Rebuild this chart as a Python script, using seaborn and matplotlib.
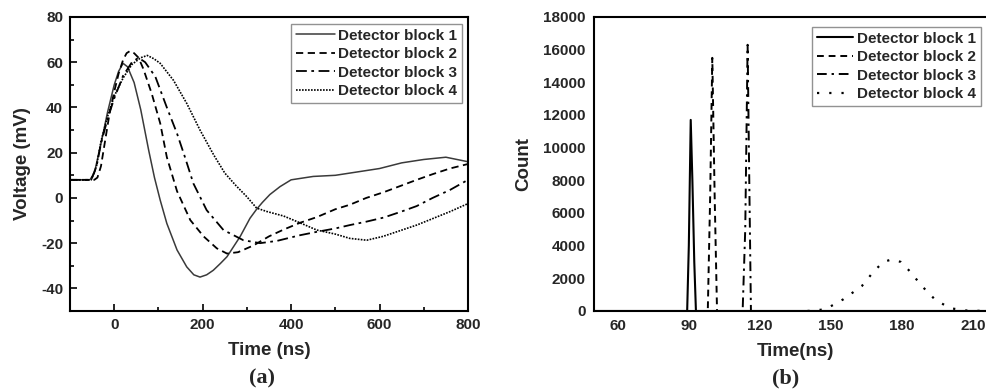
import matplotlib
matplotlib.use("Agg")
import matplotlib.pyplot as plt
from matplotlib.ticker import MultipleLocator
import seaborn as sns
import pandas as pd

# ---------------- data: panel (a) waveforms ----------------
t1 = [-100, -75, -55, -45, -30, -15, 0, 10, 20, 30, 45, 60, 78, 91, 104, 119, 142, 164, 180, 194,
      209, 224, 240, 255, 270, 285, 307, 322, 335, 352, 375, 400, 450, 500, 550, 600, 650, 700, 750, 775, 800]
v1 = [8, 8, 8, 11, 24, 38, 50, 56, 59.5, 58, 51, 39, 21, 9, -1, -11.3, -23, -30.5, -34, -35,
      -34, -32, -29, -26, -21.5, -17, -9, -5, -2, 1.5, 5, 8, 9.5, 10, 11.5, 13, 15.5, 17, 18, 17, 16]

t2 = [-100, -70, -45, -38, -30, -20, -10, 0, 10, 20, 28, 36, 45, 55, 66, 85, 104, 119, 142, 172,
      202, 232, 255, 280, 315, 350, 383, 420, 458, 500, 533, 570, 609, 650, 684, 720, 759, 800]
v2 = [8, 8, 8, 9, 14, 26, 38, 47, 55, 61, 64, 65, 64, 62, 57, 46, 33, 18, 3, -9.8,
      -17, -22.3, -24.6, -24, -21, -17, -14, -11, -8.5, -5, -3, 0, 2.5, 5.5, 8, 10.5, 13, 15]

t3 = [-100, -70, -52, -40, -30, -15, 0, 20, 40, 55, 70, 93, 119, 142, 160, 179, 209, 247, 292, 330,
      368, 420, 458, 500, 533, 570, 609, 650, 684, 720, 759, 800]
v3 = [8, 8, 8, 14, 24, 35, 44, 54, 60, 62, 60, 53.6, 40, 28.5, 18, 6.4, -5.4, -14.2, -18.7, -20,
      -19, -16.5, -15, -13.5, -12, -10.5, -8.7, -6, -3.6, 0, 3.5, 8]

t4 = [-100, -70, -52, -40, -30, -15, 0, 20, 40, 60, 75, 90, 104, 134, 164, 194, 225, 250, 275, 300,
      322, 345, 383, 420, 458, 500, 533, 571, 608, 646, 684, 722, 760, 800]
v4 = [8, 8, 8, 14, 25, 36, 45, 53, 59, 62, 63, 61.5, 59.5, 52, 41.8, 30, 19, 11, 5.5, 0.5,
      -4.5, -6, -8, -11, -14.2, -16, -17.9, -18.7, -17, -14.5, -12, -9, -6, -2.5]

# ---------------- data: panel (b) timing histograms ----------------
h1x = [50, 89.3, 90.0, 90.8, 91.5, 92.3, 93.0, 220]
h1y = [0, 0, 4000, 11700, 8000, 3000, 0, 0]
h2x = [50, 98.0, 99.0, 99.9, 100.9, 101.9, 220]
h2y = [0, 0, 7000, 15500, 7000, 0, 0]
h3x = [50, 112.7, 113.8, 114.8, 115.5, 116.2, 220]
h3y = [0, 0, 5000, 16300, 8000, 0, 0]
h4x = [140, 147.5, 155.2, 163.0, 167.9, 172.0, 175.8, 179.5, 183.4, 188.3, 194.0, 200.3, 207.0, 215.0, 220]
h4y = [0, 100, 718, 1530, 2405, 3000, 3165, 3000, 2405, 1530, 680, 170, 30, 0, 0]

labels = ["Detector block 1", "Detector block 2", "Detector block 3", "Detector block 4"]

sns.set_style("white")
plt.rcParams["font.family"] = ["Liberation Sans", "DejaVu Sans"]
plt.rcParams["font.weight"] = "bold"
plt.rcParams["axes.unicode_minus"] = False

fig = plt.figure(figsize=(9.86, 3.89), dpi=100)
ax1 = fig.add_axes([70 / 986, 1 - 311 / 389, (468 - 70) / 986, (311 - 17) / 389])
ax2 = fig.add_axes([594 / 986, 1 - 311 / 389, (997 - 594) / 986, (311 - 17) / 389])

# ---- panel (a)
styles_a = [dict(color="#3a3a3a", linestyle="-", lw=1.1),
            dict(color="black", linestyle=(0, (4, 2.5)), lw=1.3),
            dict(color="black", linestyle=(0, (6, 2.5, 1.5, 2.5)), lw=1.3),
            dict(color="black", linestyle=(0, (1, 0.8)), lw=1.2)]
for (tx, vy), lab, st in zip([(t1, v1), (t2, v2), (t3, v3), (t4, v4)], labels, styles_a):
    df = pd.DataFrame({"t": tx, "v": vy})
    sns.lineplot(data=df, x="t", y="v", ax=ax1, label=lab, estimator=None, **st)

ax1.set_xlim(-100, 800)
ax1.set_ylim(-50, 80)
ax1.xaxis.set_major_locator(MultipleLocator(200))
ax1.xaxis.set_minor_locator(MultipleLocator(100))
ax1.yaxis.set_major_locator(MultipleLocator(20))
ax1.yaxis.set_minor_locator(MultipleLocator(10))
ax1.tick_params(which="both", direction="in", bottom=True, left=True, top=False, right=False,
                labelsize=11, width=1.2, color="black")
ax1.tick_params(which="major", length=5, pad=5)
ax1.tick_params(which="minor", length=3)
ax1.set_yticks([-40, -20, 0, 20, 40, 60, 80])
for lbl in ax1.get_xticklabels() + ax1.get_yticklabels():
    lbl.set_fontweight("bold")
ax1.set_xlabel("Time (ns)", fontsize=13.5, fontweight="bold", labelpad=7)
ax1.set_ylabel("Voltage (mV)", fontsize=13.5, fontweight="bold", labelpad=7)
for s in ax1.spines.values():
    s.set_linewidth(1.5)
    s.set_color("black")
leg1 = ax1.legend(loc="upper left", bbox_to_anchor=(291 / 986, 1 - 24 / 389),
                  bbox_transform=fig.transFigure, frameon=True, fancybox=False,
                  prop=dict(size=11, weight="bold"), handlelength=2.6, handletextpad=0.2,
                  labelspacing=0.3, borderpad=0.3, borderaxespad=0)
leg1.get_frame().set_edgecolor("#777777")
leg1.get_frame().set_linewidth(1.0)

# ---- panel (b)
styles_b = [dict(color="black", linestyle="-", lw=1.5),
            dict(color="black", linestyle=(0, (3.5, 2.5)), lw=1.4),
            dict(color="black", linestyle=(0, (5, 2.5, 1.2, 2.5)), lw=1.4),
            dict(color="black", linestyle=(0, (1, 4.5)), lw=1.6)]
for (hx, hy), lab, st in zip([(h1x, h1y), (h2x, h2y), (h3x, h3y), (h4x, h4y)], labels, styles_b):
    df = pd.DataFrame({"t": hx, "c": hy})
    sns.lineplot(data=df, x="t", y="c", ax=ax2, label=lab, estimator=None, **st)

ax2.set_xlim(50, 220)
ax2.set_ylim(0, 18000)
ax2.set_xticks([60, 90, 120, 150, 180, 210])
ax2.set_yticks(list(range(0, 18001, 2000)))
ax2.tick_params(which="both", length=0, labelsize=11, pad=6)
for lbl in ax2.get_xticklabels() + ax2.get_yticklabels():
    lbl.set_fontweight("bold")
ax2.set_xlabel("Time(ns)", fontsize=13.5, fontweight="bold", labelpad=7)
ax2.set_ylabel("Count", fontsize=13.5, fontweight="bold", labelpad=8)
for s in ax2.spines.values():
    s.set_linewidth(1.5)
    s.set_color("black")
leg2 = ax2.legend(loc="upper left", bbox_to_anchor=(812 / 986, 1 - 27 / 389),
                  bbox_transform=fig.transFigure, frameon=True, fancybox=False,
                  prop=dict(size=11, weight="bold"), handlelength=2.4, handletextpad=0.25,
                  labelspacing=0.3, borderpad=0.3, borderaxespad=0)
leg2.get_frame().set_edgecolor("#777777")
leg2.get_frame().set_linewidth(1.0)

fig.text(262 / 986, 1 - 378 / 389, "(a)", ha="center", va="center", fontsize=16,
         fontweight="bold", family=["Liberation Serif", "DejaVu Serif"])
fig.text(786 / 986, 1 - 378 / 389, "(b)", ha="center", va="center", fontsize=16,
         fontweight="bold", family=["Liberation Serif", "DejaVu Serif"])

fig.savefig("out.png", dpi=100)
